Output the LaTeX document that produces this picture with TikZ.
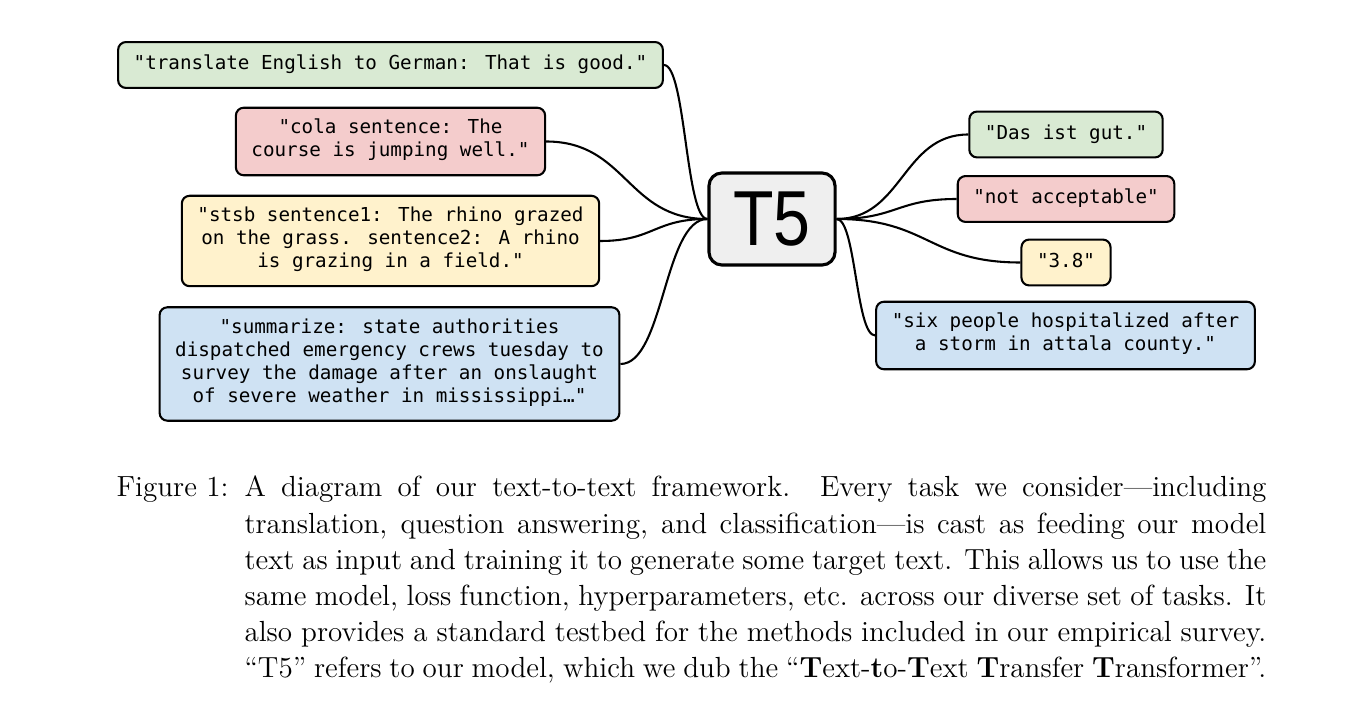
\documentclass[tikz,border=0pt]{standalone}
\usepackage{fontspec}
\usepackage{xcolor}
\usepackage{tikz}
\usetikzlibrary{calc}
\newfontfamily\boxfont{DejaVu Sans Mono}
\newfontfamily\modelfont{Liberation Sans}
\definecolor{boxgreen}{HTML}{D9EAD3}
\definecolor{boxred}{HTML}{F4CCCC}
\definecolor{boxyellow}{HTML}{FFF2CC}
\definecolor{boxblue}{HTML}{CFE2F3}
\definecolor{boxgray}{HTML}{EFEFEF}
\tikzset{ text_box/.style = {rectangle, rounded corners=3pt, draw, line width=0.8pt, align=center, inner xsep=6pt, inner ysep=4.4pt, font=\boxfont\fontsize{7.4}{8.85}\selectfont, execute at begin node=\strut, execute at end node=\strut} }
\tikzset{ model_box/.style = {rectangle, rounded corners=5pt, draw, line width=1.2pt, fill=boxgray, minimum width=48.5pt, minimum height=35.4pt, inner sep=0pt, font=\modelfont\fontsize{30}{30}\selectfont} }
\tikzset{ link/.style = {line width=0.8pt, to path={let \p1=(\tikztostart), \p2=(\tikztotarget) in .. controls ({0.5*\x1+0.5*\x2},\y1) and ({0.5*\x1+0.5*\x2},\y2) .. (\tikztotarget) \tikztonodes}} }
\tikzset{ cap_text/.style = {text width=393pt, inner sep=0pt, align=justify, font=\fontsize{11.2}{13.85}\selectfont} }

\begin{document}
\begin{tikzpicture}[x=0.3846pt, y=-0.3846pt]
\useasboundingbox (0,0) rectangle (1358,716);
\node[text_box, fill=boxgreen] (trans) at (390.5,65) {"translate English to German: That is good."};
\node[text_box, fill=boxred] (cola) at (390.5,141.5) {"cola sentence: The\\course is jumping well."};
\node[text_box, fill=boxyellow] (stsb) at (390.5,241) {"stsb sentence1: The rhino grazed\\on the grass. sentence2: A rhino\\is grazing in a field."};
\node[text_box, fill=boxblue] (summ) at (389.5,364) {"summarize: state authorities\\dispatched emergency crews tuesday to\\survey the damage after an onslaught\\of severe weather in mississippi…"};
\node[model_box] (t5) at (772,219) {\scalebox{0.85}[1]{T5}};
\node[text_box, fill=boxgreen] (de) at (1066,134.5) {"Das ist gut."};
\node[text_box, fill=boxred] (acc) at (1066,199) {"not acceptable"};
\node[text_box, fill=boxyellow] (sim) at (1066,262.5) {"3.8"};
\node[text_box, fill=boxblue] (sum) at (1065.5,335.5) {"six people hospitalized after\\a storm in attala county."};
\draw[link] (trans.east) to (t5.west);
\draw[link] (cola.east) to (t5.west);
\draw[link] (stsb.east) to (t5.west);
\draw[link] (summ.east) to (t5.west);
\draw[link] (t5.east) to (de.west);
\draw[link] (t5.east) to (acc.west);
\draw[link] (t5.east) to (sim.west);
\draw[link] (t5.east) to (sum.west);
% caption
\node[anchor=base west, inner sep=0pt, font=\fontsize{11.2}{13.85}\selectfont] (fig) at (116,497) {Figure 1:};
\node[cap_text, anchor=base west] (cap) at (244,497) {A diagram of our text-to-text framework. Every task we consider—including\linebreak{} translation, question answering, and classification—is cast as feeding our model\linebreak{} text as input and training it to generate some target text. This allows us to use the\linebreak{} same model, loss function, hyperparameters, etc. across our diverse set of tasks. It\linebreak{} also provides a standard testbed for the methods included in our empirical survey.\linebreak{} “T5” refers to our model, which we dub the “\textbf{T}ext-\textbf{t}o-\textbf{T}ext \textbf{T}ransfer \textbf{T}ransformer”.};
\end{tikzpicture}
\end{document}
